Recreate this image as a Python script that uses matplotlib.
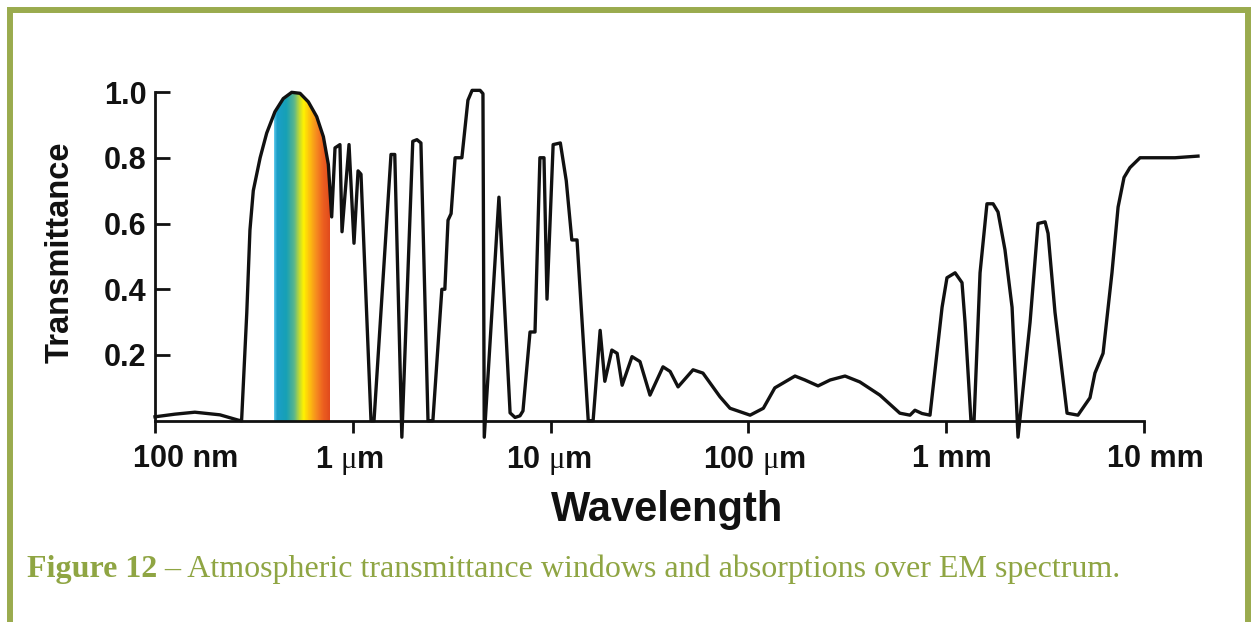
import numpy as np
import matplotlib.pyplot as plt
from matplotlib.colors import LinearSegmentedColormap
from matplotlib.patches import Polygon, Rectangle
from matplotlib.transforms import ScaledTranslation

plt.rcParams['font.family'] = ['Liberation Sans', 'DejaVu Sans']
plt.rcParams['mathtext.fontset'] = 'custom'
plt.rcParams['mathtext.rm'] = 'Liberation Serif'

# wavelength in micrometres, transmittance as a fraction
wavelength_um = [
    0.100, 0.126, 0.159, 0.213, 0.263, 0.274, 0.291, 0.302, 0.314, 0.340,
    0.367, 0.404, 0.445, 0.491, 0.541, 0.596, 0.657, 0.710, 0.752, 0.767,
    0.782, 0.813, 0.861, 0.882, 0.957, 1.014, 1.063, 1.10, 1.236, 1.28,
    1.56, 1.63, 1.77, 2.01, 2.11, 2.21, 2.40, 2.54, 2.82, 2.92,
    3.03, 3.14, 3.29, 3.56, 3.82, 4.01, 4.40, 4.55, 4.62, 5.48,
    6.24, 6.61, 7.00, 7.25, 7.87, 8.34, 8.83, 9.26, 9.59, 10.3,
    11.2, 12.0, 12.8, 13.6, 15.5, 16.4, 17.8, 18.8, 20.4, 21.7,
    23.0, 25.8, 28.3, 31.8, 37.0, 40.2, 44.1, 52.5, 58.9, 71.8,
    80.7, 102, 119, 136, 172, 193, 225, 259, 308, 366,
    462, 583, 656, 695, 755, 828, 953, 1009, 1109, 1202,
    1245, 1334, 1383, 1483, 1607, 1726, 1828, 1982, 2153, 2307,
    2655, 2912, 3162, 3273, 3548, 4083, 4635, 5333, 5649, 6209,
    6887, 7396, 7925, 8492, 9550, 10715, 14355, 18750,
]
transmittance = [
    0.012, 0.020, 0.026, 0.018, 0.002, 0.000, 0.327, 0.580, 0.700, 0.800,
    0.875, 0.940, 0.980, 0.999, 0.996, 0.970, 0.925, 0.864, 0.780, 0.700,
    0.620, 0.830, 0.840, 0.575, 0.840, 0.540, 0.760, 0.750, 0.000, 0.000,
    0.810, 0.810, -0.050, 0.850, 0.855, 0.845, 0.000, 0.000, 0.400, 0.400,
    0.610, 0.630, 0.800, 0.800, 0.975, 1.005, 1.005, 0.995, -0.050, 0.680,
    0.024, 0.010, 0.015, 0.030, 0.270, 0.270, 0.800, 0.800, 0.370, 0.840,
    0.845, 0.730, 0.550, 0.550, 0.000, 0.000, 0.275, 0.120, 0.215, 0.205,
    0.108, 0.195, 0.180, 0.078, 0.164, 0.150, 0.103, 0.155, 0.145, 0.073,
    0.038, 0.017, 0.038, 0.100, 0.136, 0.124, 0.106, 0.124, 0.136, 0.118,
    0.078, 0.023, 0.017, 0.032, 0.022, 0.017, 0.345, 0.435, 0.450, 0.420,
    0.300, 0.000, 0.000, 0.450, 0.660, 0.660, 0.635, 0.520, 0.345, -0.050,
    0.300, 0.600, 0.605, 0.570, 0.330, 0.023, 0.017, 0.070, 0.145, 0.205,
    0.450, 0.650, 0.740, 0.770, 0.800, 0.800, 0.800, 0.805,
]

visible_um = (0.40, 0.767)
spectrum_colors = [
    (0.00, '#5ec8ea'), (0.05, '#1a9ec8'), (0.22, '#16a0b5'), (0.36, '#5db68a'),
    (0.46, '#c8dc2c'), (0.53, '#fff100'), (0.63, '#fdc20e'), (0.76, '#f58a1f'),
    (0.88, '#ec5f1f'), (1.00, '#e04a1d'),
]

x_ticks = [0.1, 1, 10, 100, 1000, 10000]
x_labels = ['100 nm', r'1 $\mathrm{\mu}$m', r'10 $\mathrm{\mu}$m',
            r'100 $\mathrm{\mu}$m', '1 mm', '10 mm']
x_label_shift = [31, -3, -2, 6, 6, 11]
y_ticks = [0.2, 0.4, 0.6, 0.8, 1.0]
y_labels = ['0.2', '0.4', '0.6', '0.8', '1.0']

frame_green = '#9aab4e'
caption_green = '#8fa543'

W, H = 1251, 622
fig = plt.figure(figsize=(W / 100, H / 100), dpi=100)
fig.patch.set_facecolor('white')

ax = fig.add_axes([155 / W, (H - 420.75) / H, 989 / W, 328.75 / H])
ax.set_xscale('log')
ax.set_xlim(0.1, 10000)
ax.set_ylim(0, 1)

# rainbow over the visible window, clipped to the area under the curve
edges = np.logspace(np.log10(visible_um[0]), np.log10(visible_um[1]), 240)
shade = np.linspace(0, 1, len(edges) - 1)[None, :]
cmap = LinearSegmentedColormap.from_list('vis', spectrum_colors)
mesh = ax.pcolormesh(edges, [0, 1.0], shade, cmap=cmap, shading='flat', zorder=1)
verts = np.column_stack([wavelength_um, transmittance])
verts = np.vstack([verts, [[wavelength_um[-1], 0], [wavelength_um[0], 0]]])
under = Polygon(verts, closed=True, transform=ax.transData, facecolor='none',
                edgecolor='none')
ax.add_patch(under)
mesh.set_clip_path(under)

ax.plot(wavelength_um, transmittance, color='#111111', lw=2.4, clip_on=False,
        zorder=3, solid_joinstyle='round')

for side in ('top', 'right'):
    ax.spines[side].set_visible(False)
for side in ('left', 'bottom'):
    ax.spines[side].set_linewidth(2.0)
    ax.spines[side].set_color('#111111')
ax.spines['left'].set_bounds(0, 1)

ax.set_xticks(x_ticks)
ax.set_xticklabels(x_labels)
ax.xaxis.set_minor_locator(plt.NullLocator())
ax.set_yticks(y_ticks)
ax.set_yticklabels(y_labels)
ax.tick_params(axis='x', direction='out', length=8.5, width=2.0, pad=8,
               labelsize=22, color='#111111')
ax.tick_params(axis='y', direction='in', length=10.8, width=2.0, pad=6,
               labelsize=22, color='#111111')
for lbl in ax.get_xticklabels() + ax.get_yticklabels():
    lbl.set_fontweight('bold')
    lbl.set_color('#111111')
for lbl, dx in zip(ax.get_xticklabels(), x_label_shift):
    lbl.set_transform(lbl.get_transform() + ScaledTranslation(dx / 100, 0, fig.dpi_scale_trans))

ax.set_ylabel('Transmittance', fontsize=23.5, fontweight='bold', color='#111111',
              va='center')
ax.yaxis.set_label_coords((60 - 155) / 989, (420.75 - 252.5) / 328.75)
ax.set_xlabel('Wavelength', fontsize=30, fontweight='bold', color='#111111',
              va='center')
ax.xaxis.set_label_coords((667 - 155) / 989, (420.75 - 510) / 328.75)

# green frame around the figure
fig.patches.append(Rectangle((9.7 / W, -0.1), (1248 - 9.7) / W, 1.1 - 9.7 / H,
                             transform=fig.transFigure, fill=False,
                             edgecolor=frame_green, lw=4.3))

# caption
renderer = fig.canvas.get_renderer()
base_y = 1 - 577 / H
head = fig.text(27 / W, base_y, 'Figure 12', family='Liberation Serif',
                fontweight='bold', fontsize=23, color=caption_green, va='baseline')
bb = head.get_window_extent(renderer)
fig.text(bb.x1 / W, base_y,
         ' \u2013 Atmospheric transmittance windows and absorptions over EM spectrum.',
         family='Liberation Serif', fontsize=23, color=caption_green, va='baseline')

fig.savefig('out.png', dpi=100)
